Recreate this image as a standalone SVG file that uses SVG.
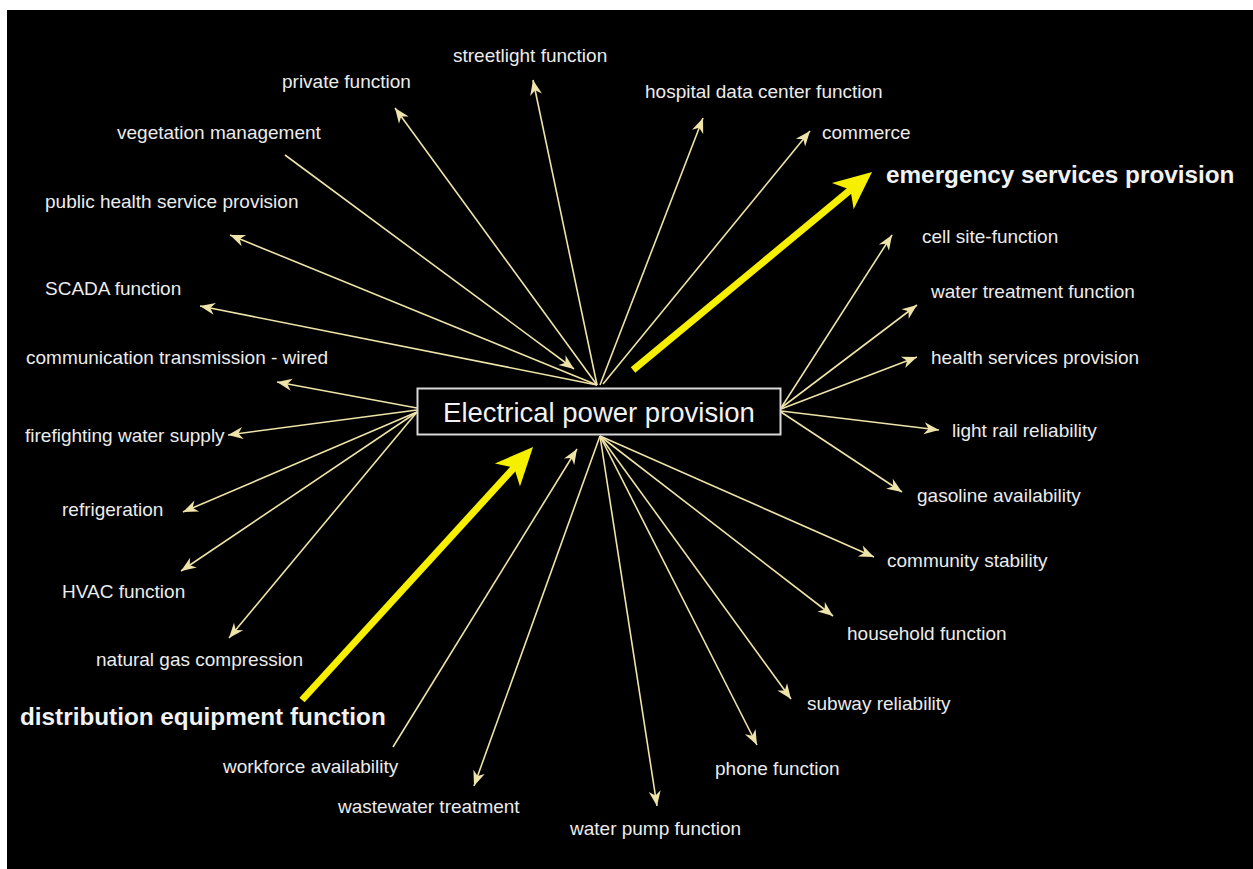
<svg xmlns="http://www.w3.org/2000/svg" width="1253" height="869" viewBox="0 0 1253 869">
<defs>
<style>
.lbl{font-family:"Liberation Sans",Arial,Helvetica,sans-serif;font-size:19px;fill:#ececec}
.big{font-family:"Liberation Sans",Arial,Helvetica,sans-serif;font-size:24.3px;font-weight:bold;fill:#f2f2f2}
.ctr{font-family:"Liberation Sans",Arial,Helvetica,sans-serif;font-size:27.5px;fill:#f2f2f2}
.thin{stroke:#eee3a8;stroke-width:1.6;fill:none;marker-end:url(#ah)}
.thick{stroke:#f7ef00;stroke-width:7;fill:none;marker-end:url(#yh)}
</style>
<marker id="ah" markerUnits="userSpaceOnUse" markerWidth="17" markerHeight="13" refX="15" refY="6" orient="auto" overflow="visible">
<path d="M0,0 L15,6 L0,12 L4.5,6 z" fill="#eee3a8"/>
</marker>
<marker id="yh" markerUnits="userSpaceOnUse" markerWidth="40" markerHeight="36" refX="16" refY="17" orient="auto" overflow="visible">
<path d="M0,0 L38,17 L0,34 L10,17 z" fill="#f7ef00"/>
</marker>
</defs>
<rect x="0" y="0" width="1253" height="869" fill="#ffffff"/>
<rect x="7" y="10" width="1246" height="859" fill="#000000"/>
<g id="connectors">
<line class="thin" x1="597" y1="385" x2="395" y2="108"/>
<line class="thin" x1="285" y1="155" x2="574" y2="369"/>
<line class="thin" x1="597" y1="385" x2="230" y2="235"/>
<line class="thin" x1="597" y1="385" x2="200" y2="306"/>
<line class="thin" x1="597" y1="385" x2="533" y2="80"/>
<line class="thin" x1="600" y1="385" x2="703" y2="118"/>
<line class="thin" x1="603" y1="384" x2="810" y2="131"/>
<line class="thin" x1="417" y1="408" x2="277" y2="382"/>
<line class="thin" x1="417" y1="410" x2="228" y2="435"/>
<line class="thin" x1="417" y1="412" x2="183" y2="512"/>
<line class="thin" x1="417" y1="412" x2="181" y2="571"/>
<line class="thin" x1="417" y1="412" x2="229" y2="638"/>
<line class="thin" x1="781" y1="408" x2="892" y2="235"/>
<line class="thin" x1="781" y1="408" x2="917" y2="305"/>
<line class="thin" x1="781" y1="409" x2="917" y2="357"/>
<line class="thin" x1="781" y1="411" x2="939" y2="430"/>
<line class="thin" x1="781" y1="412" x2="902" y2="492"/>
<line class="thin" x1="600" y1="436" x2="874" y2="557"/>
<line class="thin" x1="600" y1="436" x2="833" y2="616"/>
<line class="thin" x1="600" y1="436" x2="791" y2="699"/>
<line class="thin" x1="600" y1="436" x2="757" y2="745"/>
<line class="thin" x1="600" y1="436" x2="657" y2="806"/>
<line class="thin" x1="600" y1="436" x2="474" y2="786"/>
<line class="thin" x1="393" y1="747" x2="577" y2="449"/>
<line class="thick" x1="633" y1="370" x2="855.1" y2="186"/>
<line class="thick" x1="302" y1="700" x2="518.2" y2="463.2"/>
</g>
<g id="electrical-power-provision">
<rect x="417.5" y="388.5" width="363" height="46" fill="#000" stroke="#d8d8d8" stroke-width="2"/>
<text class="ctr" x="599" y="422" text-anchor="middle">Electrical power provision</text>
</g>
<g id="streetlight-function"><text class="lbl" x="453" y="62">streetlight function</text></g>
<g id="private-function"><text class="lbl" x="282" y="88">private function</text></g>
<g id="hospital-data-center-function"><text class="lbl" x="645" y="98">hospital data center function</text></g>
<g id="vegetation-management"><text class="lbl" x="117" y="139">vegetation management</text></g>
<g id="commerce"><text class="lbl" x="822" y="139">commerce</text></g>
<g id="emergency-services-provision"><text class="big" x="886" y="183">emergency services provision</text></g>
<g id="public-health-service-provision"><text class="lbl" x="45" y="208">public health service provision</text></g>
<g id="cell-site-function"><text class="lbl" x="922" y="243">cell site-function</text></g>
<g id="scada-function"><text class="lbl" x="45" y="295">SCADA function</text></g>
<g id="water-treatment-function"><text class="lbl" x="931" y="298">water treatment function</text></g>
<g id="communication-transmission-wired"><text class="lbl" x="26" y="364">communication transmission - wired</text></g>
<g id="health-services-provision"><text class="lbl" x="931" y="364">health services provision</text></g>
<g id="light-rail-reliability"><text class="lbl" x="952" y="437">light rail reliability</text></g>
<g id="firefighting-water-supply"><text class="lbl" x="25" y="442">firefighting water supply</text></g>
<g id="gasoline-availability"><text class="lbl" x="917" y="502">gasoline availability</text></g>
<g id="refrigeration"><text class="lbl" x="62" y="516">refrigeration</text></g>
<g id="community-stability"><text class="lbl" x="887" y="567">community stability</text></g>
<g id="hvac-function"><text class="lbl" x="62" y="598">HVAC function</text></g>
<g id="household-function"><text class="lbl" x="847" y="640">household function</text></g>
<g id="natural-gas-compression"><text class="lbl" x="96" y="666">natural gas compression</text></g>
<g id="subway-reliability"><text class="lbl" x="807" y="710">subway reliability</text></g>
<g id="distribution-equipment-function"><text class="big" x="20" y="725">distribution equipment function</text></g>
<g id="workforce-availability"><text class="lbl" x="223" y="773">workforce availability</text></g>
<g id="phone-function"><text class="lbl" x="715" y="775">phone function</text></g>
<g id="wastewater-treatment"><text class="lbl" x="338" y="813">wastewater treatment</text></g>
<g id="water-pump-function"><text class="lbl" x="570" y="835">water pump function</text></g>
</svg>
